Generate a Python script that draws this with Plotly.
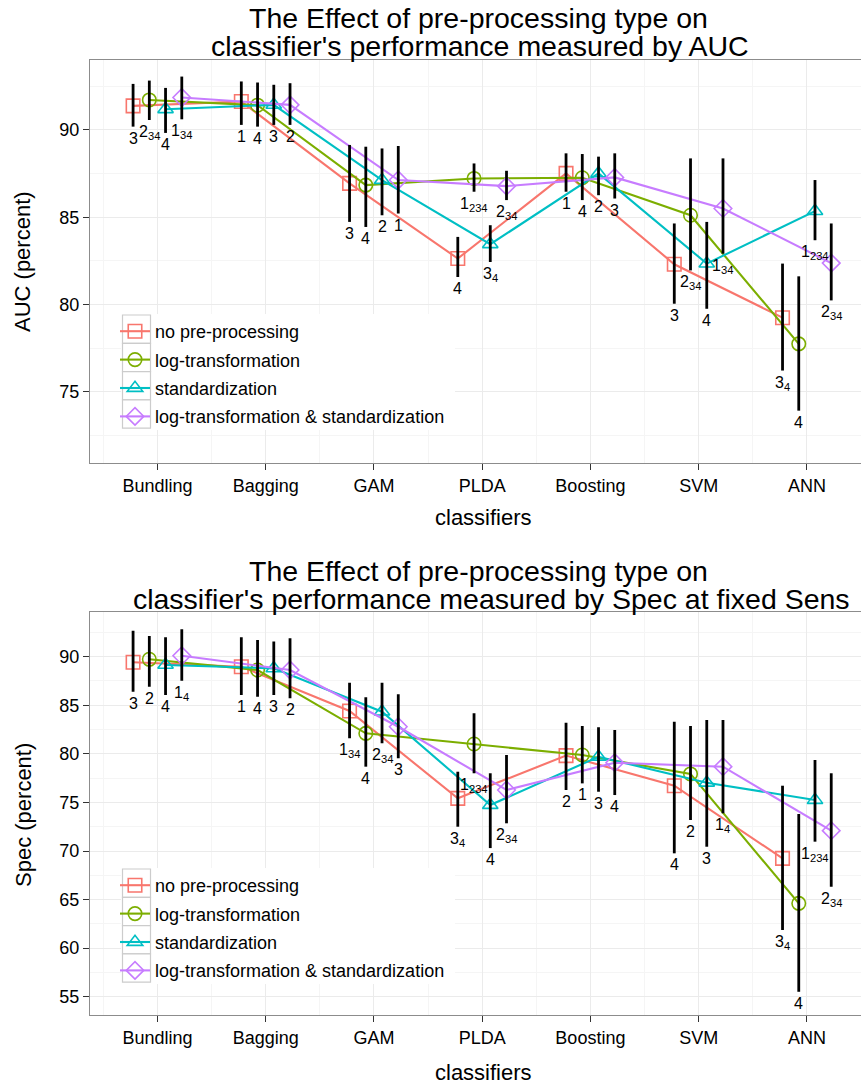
import plotly.graph_objects as go

W, H = 861, 1086

categories = ["Bundling", "Bagging", "GAM", "PLDA", "Boosting", "SVM", "ANN"]
series_names = ["no pre-processing", "log-transformation", "standardization",
                "log-transformation & standardization"]
colors = ["#F8766D", "#7CAE00", "#00BFC4", "#C77CFF"]
symbols = ["square-open", "circle-open", "triangle-up-open", "diamond-open"]
dodge = [-0.225, -0.075, 0.075, 0.225]

# ---- AUC (top chart) ----
auc_none_mean = [91.38, 91.63, 86.94, 82.63, 87.51, 82.30, 79.24]
auc_none_low = [90.19, 90.29, 84.73, 81.57, 86.46, 80.04, 76.21]
auc_none_up = [92.64, 92.78, 89.14, 83.87, 88.66, 84.64, 82.34]
auc_none_lab = ["3", "1", "3", "4", "1", "3", "3_4"]

auc_log_mean = [91.72, 91.42, 86.84, 87.22, 87.26, 85.11, 77.74]
auc_log_low = [90.57, 90.19, 84.44, 86.46, 85.98, 81.95, 73.91]
auc_log_up = [92.83, 92.72, 89.04, 88.08, 88.62, 88.37, 81.61]
auc_log_lab = ["2_34", "4", "4", "1_234", "4", "2_34", "4"]

auc_std_mean = [91.19, 91.44, 87.13, 83.45, 87.51, 82.34, 85.35]
auc_std_low = [89.83, 90.29, 85.11, 82.43, 86.26, 79.75, 83.68]
auc_std_up = [92.41, 92.59, 88.94, 84.54, 88.47, 84.73, 87.13]
auc_std_lab = ["4", "3", "2", "3_4", "2", "4", "1_234"]

auc_both_mean = [91.86, 91.44, 87.13, 86.78, 87.28, 85.50, 82.37]
auc_both_low = [90.61, 90.29, 85.21, 85.98, 86.07, 82.91, 80.23]
auc_both_up = [93.06, 92.68, 89.08, 87.66, 88.66, 88.37, 84.64]
auc_both_lab = ["1_34", "2", "1", "2_34", "3", "1_34", "2_34"]

# ---- Spec at fixed Sens (bottom chart) ----
spec_none_mean = [89.42, 88.97, 84.41, 75.42, 79.82, 76.72, 69.24]
spec_none_low = [86.40, 86.06, 81.60, 72.50, 76.28, 69.76, 61.87]
spec_none_up = [92.68, 92.00, 87.32, 78.16, 83.20, 83.31, 76.72]
spec_none_lab = ["3", "1", "1_34", "3_4", "2", "4", "3_4"]

spec_log_mean = [89.73, 88.63, 82.11, 81.01, 79.88, 77.93, 64.61]
spec_log_low = [86.91, 85.88, 78.68, 78.00, 76.96, 73.19, 55.51]
spec_log_up = [92.13, 91.72, 85.82, 84.17, 82.87, 82.87, 73.81]
spec_log_lab = ["2", "4", "4", "1_234", "1", "2", "4"]

spec_std_mean = [89.15, 88.80, 84.34, 74.73, 79.70, 77.03, 75.25]
spec_std_low = [86.06, 86.06, 81.08, 70.30, 76.10, 70.44, 70.96]
spec_std_up = [92.00, 91.55, 87.32, 78.00, 82.73, 83.48, 79.37]
spec_std_lab = ["4", "3", "2_34", "4", "3", "3", "1_234"]

spec_both_mean = [90.10, 88.63, 82.79, 76.28, 79.09, 78.68, 72.09]
spec_both_low = [87.53, 85.71, 79.54, 72.85, 75.76, 73.88, 66.32]
spec_both_up = [92.82, 91.89, 86.13, 79.88, 82.45, 83.48, 78.00]
spec_both_lab = ["1_4", "2", "3", "2_34", "4", "1_4", "2_34"]

auc_series = [
    (auc_none_mean, auc_none_low, auc_none_up, auc_none_lab),
    (auc_log_mean, auc_log_low, auc_log_up, auc_log_lab),
    (auc_std_mean, auc_std_low, auc_std_up, auc_std_lab),
    (auc_both_mean, auc_both_low, auc_both_up, auc_both_lab),
]
spec_series = [
    (spec_none_mean, spec_none_low, spec_none_up, spec_none_lab),
    (spec_log_mean, spec_log_low, spec_log_up, spec_log_lab),
    (spec_std_mean, spec_std_low, spec_std_up, spec_std_lab),
    (spec_both_mean, spec_both_low, spec_both_up, spec_both_lab),
]

FONT = "Liberation Sans, Arial, Helvetica, sans-serif"


def fmt_label(s):
    if "_" in s:
        a, b = s.split("_")
        return f"{a}<sub>{b}</sub>"
    return s


fig = go.Figure()
annotations = []

panels = [
    (auc_series, "x", "y", "legend"),
    (spec_series, "x2", "y2", "legend2"),
]

for series, xr, yr, lg in panels:
    for s, (mean, low, up, lab) in enumerate(series):
        xs = [i + 1 + dodge[s] for i in range(len(categories))]
        fig.add_trace(go.Scatter(
            x=xs, y=mean, mode="lines+markers", name=series_names[s],
            xaxis=xr, yaxis=yr, legend=lg, legendgroup=f"{lg}_{s}",
            line=dict(color=colors[s], width=2.1),
            marker=dict(symbol=symbols[s], size=13.5, color=colors[s],
                        line=dict(width=1.6, color=colors[s])),
            hoverinfo="skip",
        ))
    for s, (mean, low, up, lab) in enumerate(series):
        xs = [i + 1 + dodge[s] for i in range(len(categories))]
        fig.add_trace(go.Scatter(
            x=xs, y=mean, mode="markers", xaxis=xr, yaxis=yr,
            showlegend=False, hoverinfo="skip",
            marker=dict(size=1, opacity=0),
            error_y=dict(type="data", symmetric=False,
                         array=[u - m for u, m in zip(up, mean)],
                         arrayminus=[m - l for m, l in zip(mean, low)],
                         color="black", thickness=2.8, width=0),
        ))
        for i in range(len(categories)):
            annotations.append(dict(
                x=xs[i], y=low[i], xref=xr, yref=yr, text=fmt_label(lab[i]),
                showarrow=False, xanchor="center", yanchor="top", yshift=-1,
                font=dict(size=16, color="black", family=FONT),
            ))

# titles and axis titles
def add_text(txt, xp, yp, size, angle=0):
    annotations.append(dict(
        x=xp / W, y=1 - yp / H, xref="paper", yref="paper", text=txt,
        showarrow=False, xanchor="center", yanchor="middle", textangle=angle,
        font=dict(size=size, color="black", family=FONT),
    ))

add_text("The Effect of pre-processing type on", 478, 18, 28.5)
add_text("classifier's performance measured by AUC", 480, 46, 28.5)
add_text("The Effect of pre-processing type on", 478, 571, 28.5)
add_text(" classifier's performance measured by Spec at fixed Sens", 487, 599, 28.5)
add_text("classifiers", 483, 517, 22)
add_text("classifiers", 483, 1072, 22)
add_text("AUC (percent)", 23, 262, 22, -90)
add_text("Spec (percent)", 23, 815, 22, -90)

grid_major = "#ebebeb"
grid_minor = "#f5f5f5"


def xaxis_cfg(anchor):
    return dict(
        domain=[90 / W, 1.0], range=[0.377, 7.5], anchor=anchor,
        tickmode="array", tickvals=list(range(1, 8)), ticktext=categories,
        ticks="outside", ticklen=6, tickwidth=1.4, tickcolor="#333333",
        tickfont=dict(size=18, color="black", family=FONT),
        showline=True, linecolor="#8c8c8c", linewidth=1, mirror=True,
        showgrid=True, gridcolor=grid_major, gridwidth=1, zeroline=False,
        minor=dict(tickvals=[k + 0.5 for k in range(0, 8)], showgrid=True,
                   gridcolor=grid_minor, ticks=""),
    )


def yaxis_cfg(anchor, dom, rng, major, minor):
    return dict(
        domain=dom, range=rng, anchor=anchor,
        tickmode="array", tickvals=major,
        ticks="outside", ticklen=6, tickwidth=1.4, tickcolor="#333333",
        tickfont=dict(size=18, color="black", family=FONT),
        showline=True, linecolor="#8c8c8c", linewidth=1, mirror=False,
        showgrid=True, gridcolor=grid_major, gridwidth=1, zeroline=False,
        minor=dict(tickvals=minor, showgrid=True, gridcolor=grid_minor, ticks=""),
    )


auc_ticks = [75, 80, 85, 90]
auc_minor = [72.5, 77.5, 82.5, 87.5, 92.5]
spec_ticks = [55, 60, 65, 70, 75, 80, 85, 90]
spec_minor = [57.5, 62.5, 67.5, 72.5, 77.5, 82.5, 87.5, 92.5]

# legend backgrounds and key boxes
shapes = []
for top in (315, 869):
    shapes.append(dict(type="rect", xref="paper", yref="paper",
                       x0=121 / W, x1=455 / W, y0=1 - (top + 115) / H, y1=1 - (top - 1) / H,
                       fillcolor="white", line=dict(width=0), layer="above"))
    for r in range(4):
        y0 = top + r * 28.3
        shapes.append(dict(type="rect", xref="paper", yref="paper",
                           x0=122.5 / W, x1=150.5 / W, y0=1 - (y0 + 28.3) / H, y1=1 - y0 / H,
                           fillcolor="white", line=dict(color="#cccccc", width=1.2),
                           layer="above"))

legend_common = dict(
    xanchor="left", yanchor="top", bgcolor="rgba(0,0,0,0)", borderwidth=0,
    font=dict(size=18, color="black", family=FONT), tracegroupgap=2, itemwidth=30,
)

fig.update_layout(
    width=W, height=H, margin=dict(l=0, r=0, t=0, b=0),
    paper_bgcolor="white", plot_bgcolor="white",
    font=dict(family=FONT, color="black"),
    xaxis=xaxis_cfg("y"),
    yaxis=yaxis_cfg("x", [1 - 463 / H, 1 - 60 / H], [70.91, 94.01], auc_ticks, auc_minor),
    xaxis2=xaxis_cfg("y2"),
    yaxis2=yaxis_cfg("x2", [1 - 1015 / H, 1 - 611.7 / H], [53.12, 94.63], spec_ticks, spec_minor),
    legend=dict(x=115 / W, y=1 - 313 / H, **legend_common),
    legend2=dict(x=115 / W, y=1 - 867 / H, **legend_common),
    annotations=annotations,
    shapes=shapes,
    showlegend=True,
)

fig.write_html("out.html")
